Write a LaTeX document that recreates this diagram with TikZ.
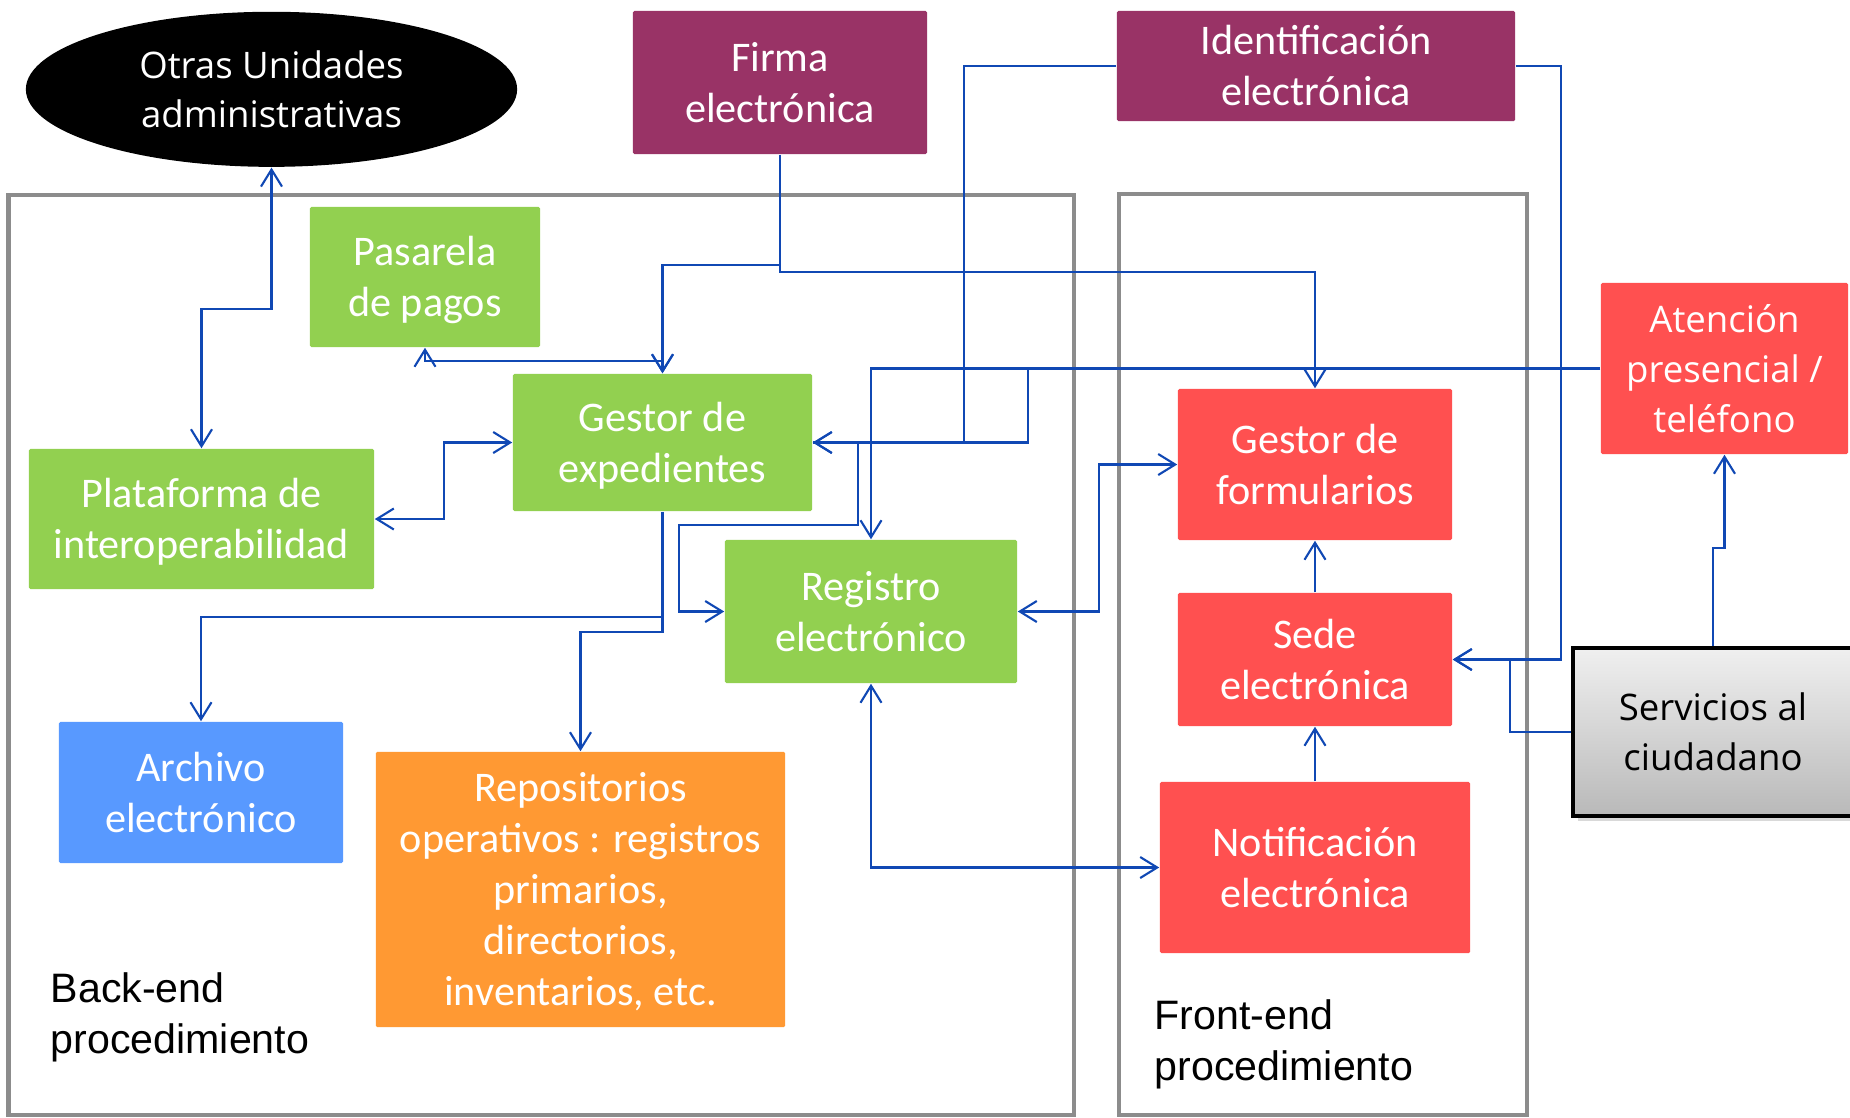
\documentclass[tikz,border=0pt]{standalone}
\usepackage{fontspec}
\setmainfont{Carlito}
\newfontfamily\opensansfam{Open Sans}
\newfontfamily\arialfam{Liberation Sans}
\usetikzlibrary{arrows.meta, positioning, shapes.geometric, shadows}

\definecolor{verde}{RGB}{146,208,80}
\definecolor{morado}{RGB}{153,51,102}
\definecolor{rojo}{RGB}{255,80,80}
\definecolor{azul}{RGB}{88,153,255}
\definecolor{naranja}{RGB}{255,153,51}
\definecolor{linea}{RGB}{16,72,180}
\definecolor{marco}{RGB}{140,140,140}

\begin{document}
\begin{tikzpicture}[x=0.01cm, y=-0.01cm,
  >={Straight Barb[length=1.7mm,width=2.1mm]},
  base/.style={rectangle, rounded corners=0.4pt, inner sep=0pt, align=center, text=white},
  box/.style={base, font=\fontsize{12}{14.5}\selectfont,
    execute at begin node={\rule{0pt}{\dimexpr14.5pt*#1-3.2pt\relax}},
    execute at end node={\rule[-3.2pt]{0pt}{0pt}}},
  box/.default=2,
  seg/.style={font=\opensansfam\fontsize{10.4}{14.2}\selectfont},
  conn/.style={draw=linea, line width=0.6pt},
  frame/.style={draw=marco, line width=1.3pt},
  label/.style={anchor=west, inner sep=0pt, align=left, font=\arialfam\fontsize{11.7}{14.5}\selectfont}]

\useasboundingbox (0,0) rectangle (1850,1117);

% frames
\draw [frame] (8.6,195) rectangle (1074,1115);
\draw [frame] (1119,194) rectangle (1527,1115);

% nodes
\node [ellipse, fill=black, text=white, inner sep=0pt, align=center, seg, minimum width=4.91cm, minimum height=1.55cm] (OU) at (271.5,89.3) {Otras Unidades\\administrativas};
\node [box, fill=morado, minimum width=2.94cm, minimum height=1.43cm] (FE) at (780,82.5) {Firma\\electrónica};
\node [box, fill=morado, minimum width=3.98cm, minimum height=1.10cm] (IE) at (1316,66) {Identificación\\electrónica};

\node [box, fill=verde, minimum width=2.30cm, minimum height=1.40cm] (PP) at (425,277) {Pasarela\\de pagos};
\node [box, fill=verde, minimum width=2.99cm, minimum height=1.37cm] (GE) at (662.5,442.5) {Gestor de\\expedientes};
\node [box, fill=verde, minimum width=3.45cm, minimum height=1.40cm] (PI) at (201.5,519) {Plataforma de\\interoperabilidad};
\node [box, fill=verde, minimum width=2.92cm, minimum height=1.43cm] (RE) at (871,611.5) {Registro\\electrónico};
\node [box, fill=azul, minimum width=2.84cm, minimum height=1.41cm] (AE) at (201,792.5) {Archivo\\electrónico};
\node [box=5, fill=naranja, minimum width=4.09cm, minimum height=2.75cm] (RO) at (580.5,889.5) {Repositorios\\operativos : registros\\primarios,\\directorios,\\inventarios, etc.};

\node [box, fill=rojo, minimum width=2.74cm, minimum height=1.51cm] (GF) at (1315,464.5) {Gestor de\\formularios};
\node [box, fill=rojo, minimum width=2.74cm, minimum height=1.33cm] (SE) at (1315,659.5) {Sede\\electrónica};
\node [box, fill=rojo, minimum width=3.10cm, minimum height=1.71cm] (NE) at (1315,867.5) {Notificación\\electrónica};
\node [base, fill=rojo, seg, minimum width=2.47cm, minimum height=1.71cm] (AP) at (1724.5,368.5) {Atención\\presencial /\\teléfono};
\node [rectangle, inner sep=0pt, align=center, seg, draw=black, line width=1pt, top color=gray!12, bottom color=gray!55, drop shadow={shadow xshift=1.5pt, shadow yshift=-1.5pt, opacity=0.3}, minimum width=2.80cm, minimum height=1.68cm] (SC) at (1713,732) {Servicios al\\ciudadano};

\node [label] (BL) at (50,1017) {Back-end\\procedimiento};
\node [label] (FL) at (1154,1044) {Front-end\\procedimiento};

% arrows
\draw [conn, <->] (OU.south) -- ++(0,141) -| (PI.north);
\draw [conn, <->] (PI.east) -- ++(69,0) |- (GE.west);
\draw [conn, <->] (PP.south) -- ++(0,13) -| (GE.north);
\draw [conn, ->] (FE.south) -- ++(0,110) -| (GE.north);
\draw [conn, ->] (FE.south) -- ++(0,117) -| (GF.north);
\draw [conn, ->] (IE.west) -- ++(-152,0) |- (GE.east);
\draw [conn, ->] (IE.east) -- ++(45,0) |- (SE.east);
\draw [conn, ->] (SC.west) -- ++(-61,0) |- (SE.east);
\draw [conn, ->] (SC.north) -- ++(0,-98) -| (AP.south);
\draw [conn, ->] (AP.west) -| (RE.north);
\draw [conn, ->] (AP.west) -- ++(-572,0) |- (GE.east);
\draw [conn, ->] (GE.east) -- (858,442.5) -- (858,525) -- (679,525) |- (RE.west);
\draw [conn, ->] (GE.south) -- ++(0,105) -| (AE.north);
\draw [conn, ->] (GE.south) -- ++(0,120) -| (RO.north);
\draw [conn, <->] (RE.east) -- ++(81,0) |- (GF.west);
\draw [conn, <->] (RE.south) |- (NE.west);
\draw [conn, ->] (SE.north) -- (GF.south);
\draw [conn, ->] (NE.north) -- (SE.south);

\end{tikzpicture}
\end{document}
